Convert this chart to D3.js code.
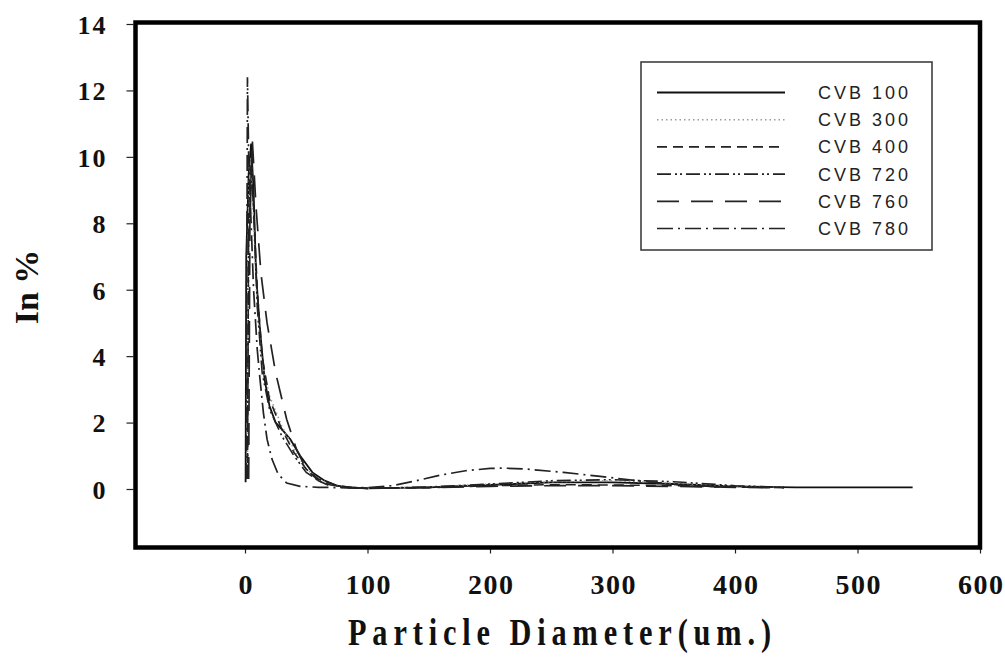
<!DOCTYPE html>
<html><head><meta charset="utf-8">
<script src="https://cdn.jsdelivr.net/npm/d3@7"></script>
<style>body{margin:0;background:#fff}</style>
</head><body><svg id="c" width="1005" height="657"></svg>
<script>
const seriesNames = ["CVB 100","CVB 300","CVB 400","CVB 720","CVB 760","CVB 780"];
const cvb100X = [0.5,1,3,5,7,9,12,16,20,25,30,37,45,55,65,75,85,100,150,200,250,300,350,400,450,500,545];
const cvb100Y = [0.2,7.0,9.5,10.4,9.0,6.5,4.9,3.3,2.5,2.0,1.8,1.5,1.0,0.5,0.25,0.1,0.05,0.02,0.05,0.12,0.2,0.2,0.15,0.08,0.05,0.05,0.05];
const cvb300X = [2,3,5,7,10,14,20,30,40,50,60,70,85,100,150,200,250,300,350,400,440];
const cvb300Y = [0.3,9.0,10.0,8.0,5.5,3.8,2.8,1.9,1.2,0.6,0.3,0.15,0.05,0.02,0.06,0.15,0.22,0.25,0.18,0.08,0.05];
const cvb400X = [2,3,5,7,10,14,20,30,40,50,60,75,90,100,150,200,250,300,350,400,440];
const cvb400Y = [0.3,8.5,9.8,8.5,6.0,4.0,2.7,1.8,1.1,0.6,0.3,0.1,0.04,0.02,0.04,0.1,0.13,0.12,0.1,0.06,0.04];
const cvb720X = [2,3,5,7,10,14,20,30,40,50,60,70,85,100,150,200,250,300,350,400,440];
const cvb720Y = [0.3,7.5,9.5,8.5,5.5,3.5,2.4,1.6,1.0,0.5,0.25,0.12,0.04,0.02,0.06,0.15,0.25,0.28,0.22,0.1,0.05];
const cvb760X = [3,4,6,9,13,18,25,34,42,50,60,70,85,100,150,200,250,300,350,400,440];
const cvb760Y = [0.3,8.0,10.5,8.5,6.5,5.0,3.5,2.1,1.2,0.6,0.25,0.08,0.03,0.02,0.04,0.08,0.1,0.1,0.08,0.05,0.04];
const cvb780X = [1,2,3,5,7,10,12,15,18,22,27,34,45,60,80,100,120,140,160,180,200,210,230,260,290,320,355,380,400];
const cvb780Y = [0.3,12.4,10.0,8.0,6.0,4.2,3.4,2.3,1.5,0.9,0.45,0.18,0.08,0.05,0.04,0.04,0.1,0.25,0.42,0.55,0.62,0.63,0.6,0.5,0.38,0.25,0.12,0.08,0.06];
const xTicks = [0,100,200,300,400,500,600];
const yTicks = [0,2,4,6,8,10,12,14];

const seriesX = [cvb100X,cvb300X,cvb400X,cvb720X,cvb760X,cvb780X];
const seriesY = [cvb100Y,cvb300Y,cvb400Y,cvb720Y,cvb760Y,cvb780Y];
const styles = [
  {dash:null, color:"#111", w:1.8},
  {dash:"1.5,3", color:"#999", w:1.5},
  {dash:"10,6", color:"#222", w:1.6},
  {dash:"14,4,2,3,2,4", color:"#222", w:1.6},
  {dash:"22,12", color:"#222", w:1.7},
  {dash:"16,5,2,5", color:"#222", w:1.7}
];

const svg = d3.select("#c");
const L=135.5,R=980,T=22.5,B=547.5;
const x = d3.scaleLinear().domain([0,600]).range([245,980]);
const y = d3.scaleLinear().domain([0,14]).range([489,24]);

svg.append("clipPath").attr("id","clip").append("rect").attr("x",L).attr("y",T).attr("width",R-L).attr("height",B-T);

const line = d3.line().x(d=>x(d[0])).y(d=>y(d[1]));
const g = svg.append("g").attr("clip-path","url(#clip)");
seriesX.forEach((xs,i)=>{
  const pts = xs.map((v,j)=>[v,seriesY[i][j]]);
  g.append("path").attr("d",line(pts)).attr("fill","none")
    .attr("stroke",styles[i].color).attr("stroke-width",styles[i].w)
    .attr("stroke-dasharray",styles[i].dash);
});

// axes
const xAxis = svg.append("g").attr("transform",`translate(0,${B})`)
  .call(d3.axisBottom(x).tickValues(xTicks).tickSize(6).tickFormat(d3.format("d")));
const yAxis = svg.append("g").attr("transform",`translate(${L-2},0)`)
  .call(d3.axisLeft(y).tickValues(yTicks).tickSize(7).tickPadding(19).tickFormat(d3.format("d")));
[xAxis,yAxis].forEach(a=>{
  a.select(".domain").remove();
  a.selectAll(".tick line").attr("stroke","#222").attr("stroke-width",1.2);
  a.selectAll(".tick text").attr("fill","#111")
   .style("font-family","'Liberation Serif',serif").style("font-weight","bold");
});
xAxis.selectAll(".tick text").attr("y",46).attr("dy",0).attr("dx","0.75")
  .style("font-size","28px").style("letter-spacing","1.5px");
yAxis.selectAll(".tick text").attr("dy","0.36em")
  .style("font-size","26px").style("letter-spacing","2px");

// frame
svg.append("rect").attr("x",L).attr("y",T).attr("width",R-L).attr("height",B-T)
  .attr("fill","none").attr("stroke","#000").attr("stroke-width",4.5);

// titles
svg.append("text").attr("transform","translate(559.5,645) scale(0.82,1)").attr("text-anchor","middle")
  .attr("textLength",516).attr("lengthAdjust","spacing")
  .style("font-family","'Liberation Serif',serif").style("font-weight","bold")
  .style("font-size","37px").attr("fill","#111").text("Particle Diameter(um.)");
svg.append("text").attr("transform","translate(38,287) rotate(-90)").attr("text-anchor","middle")
  .style("font-family","'Liberation Serif',serif").style("font-weight","bold")
  .style("font-size","34px").attr("fill","#111").text("In %");

// legend
const lg = svg.append("g");
lg.append("rect").attr("x",641).attr("y",62).attr("width",291).attr("height",188)
  .attr("fill","#fff").attr("stroke","#333").attr("stroke-width",1.5);
seriesNames.forEach((n,i)=>{
  const yy = 92.5 + i*27.2;
  lg.append("line").attr("x1",657).attr("x2",785).attr("y1",yy).attr("y2",yy)
    .attr("stroke",styles[i].color).attr("stroke-width",styles[i].w)
    .attr("stroke-dasharray",styles[i].dash);
  lg.append("text").attr("x",818).attr("y",yy).attr("dy","0.36em")
    .style("font-family","'Liberation Sans',Arial,sans-serif").style("font-size","18px")
    .style("letter-spacing","3px").attr("fill","#222").text(n);
});
</script></body></html>
